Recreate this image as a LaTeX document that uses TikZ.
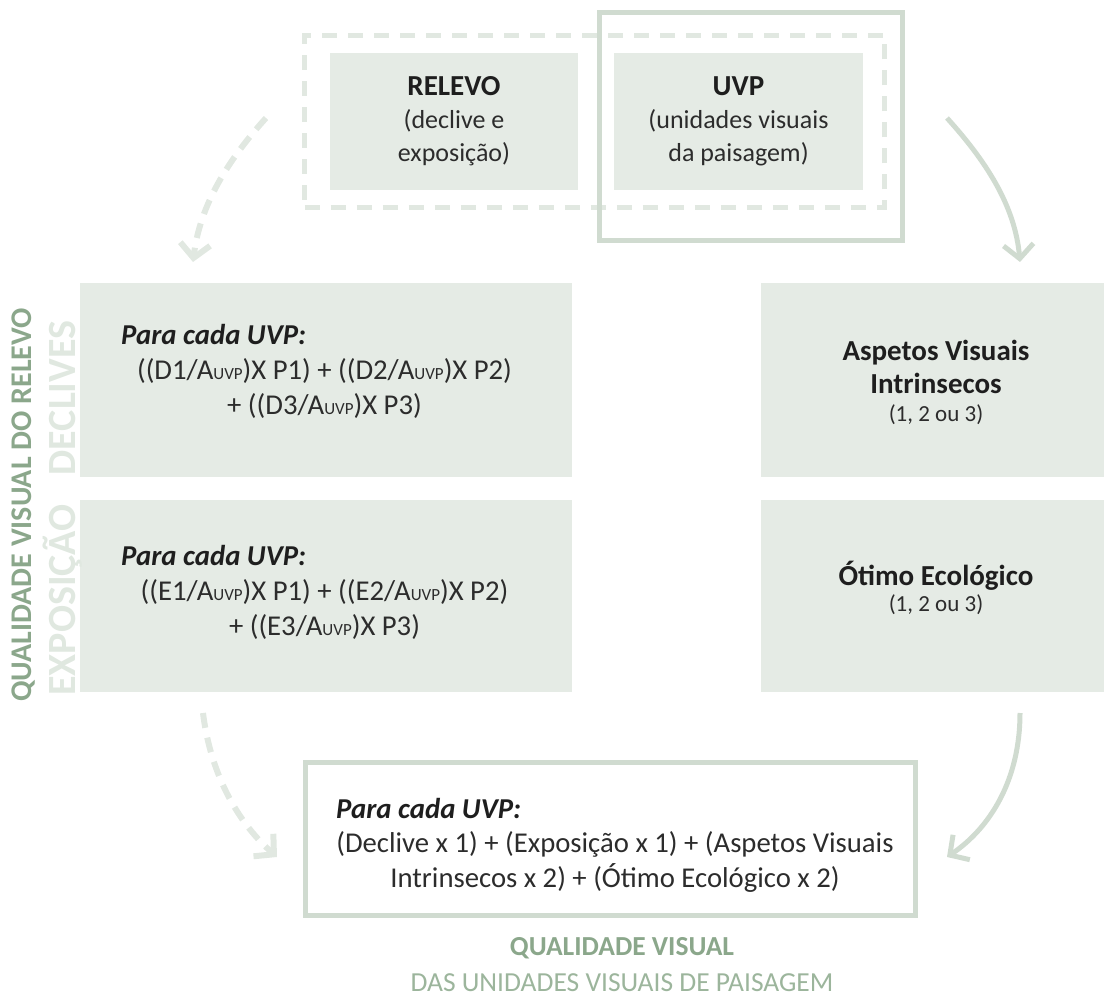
\documentclass[tikz,border=0pt]{standalone}
\usepackage{fontspec}
\setmainfont{Carlito}
\usetikzlibrary{arrows.meta}
\definecolor{boxfill}{HTML}{E5EBE5}
\definecolor{framec}{HTML}{D0DBD0}
\definecolor{dashc}{HTML}{E1E8E1}
\definecolor{titlec}{HTML}{8BA78B}
\definecolor{subtitlec}{HTML}{9CB59C}
\definecolor{ghostc}{HTML}{E0E8E0}
\definecolor{txt}{HTML}{1E1E1E}
\definecolor{txtl}{HTML}{2C2C2C}
\newcommand{\auvp}{A{\fontsize{17}{17}\selectfont UVP}}
\tikzset{
  fillbox/.style={fill=boxfill, draw=none, inner sep=0pt},
  framebox/.style={draw=framec, line width=5pt, inner sep=0pt},
  dashbox/.style={draw=dashc, line width=5pt, dash pattern=on 15pt off 11pt, inner sep=0pt},
  solidarrow/.style={draw=framec, line width=5pt, -{Straight Barb[length=14pt,width=30pt]}},
  dasharrow/.style={draw=dashc, line width=6pt, dash pattern=on 15pt off 10pt, -{Straight Barb[length=14pt,width=30pt]}},
  lbl/.style={inner sep=0pt, text=txtl, align=center, font=\fontsize{28.7}{35}\selectfont},
  boldlbl/.style={inner sep=0pt, text=txt, align=center, font=\fontsize{29}{33}\bfseries\selectfont},
  small/.style={inner sep=0pt, text=txtl, align=center, font=\fontsize{26}{33}\selectfont},
  tiny/.style={inner sep=0pt, text=txtl, align=center, font=\fontsize{23}{28}\selectfont},
  head/.style={inner sep=0pt, text=txt, font=\fontsize{28.8}{34}\bfseries\itshape\selectfont, anchor=west},
  vtitle/.style={inner sep=0pt, text=titlec, rotate=90, font=\fontsize{30}{34}\bfseries\selectfont},
  ghost/.style={inner sep=0pt, text=ghostc, rotate=90, font=\fontsize{40}{44}\bfseries\selectfont},
}
\begin{document}
\begin{tikzpicture}[x=1pt,y=-1pt]
\useasboundingbox (0,0) rectangle (1104,1000);

% top group
\node[dashbox, minimum width=580pt, minimum height=172pt] (relframe) at (594.5,121.5) {};
\node[framebox, minimum width=303pt, minimum height=228pt] (uvpframe) at (751,126.5) {};
\node[fillbox, minimum width=248pt, minimum height=137pt] (relevo) at (454,121.5) {};
\node[fillbox, minimum width=249pt, minimum height=137pt] (uvp) at (738.5,121.5) {};
\node[small] (relevotxt) at (454,121) {{\fontsize{29}{33}\bfseries\selectfont\color{txt} RELEVO}\\(declive e\\exposição)};
\node[small] (uvptxt) at (738.5,121) {{\fontsize{29}{33}\bfseries\selectfont\color{txt} UVP}\\(unidades visuais\\da paisagem)};

% left boxes
\node[fillbox, minimum width=492pt, minimum height=194pt] (declives) at (326,380) {};
\node[fillbox, minimum width=492pt, minimum height=192pt] (exposicao) at (326,596) {};
\node[head] (dhead) at (121,335) {Para cada UVP:};
\node[lbl] (dform) at (324.5,388) {((D1/\auvp)X P1) + ((D2/\auvp)X P2)\\+ ((D3/\auvp)X P3)};
\node[head] (ehead) at (121,556) {Para cada UVP:};
\node[lbl] (eform) at (324.5,609) {((E1/\auvp)X P1) + ((E2/\auvp)X P2)\\+ ((E3/\auvp)X P3)};

% right boxes
\node[fillbox, minimum width=343pt, minimum height=194pt] (aspetos) at (932.5,380) {};
\node[fillbox, minimum width=343pt, minimum height=192pt] (otimo) at (932.5,596) {};
\node[boldlbl] (asptxt) at (936,367) {Aspetos Visuais\\Intrinsecos};
\node[tiny] (aspval) at (936,415) {(1, 2 ou 3)};
\node[boldlbl] (otitxt) at (936,576) {Ótimo Ecológico};
\node[tiny] (otival) at (936,605) {(1, 2 ou 3)};

% vertical labels
\node[vtitle] (qvr) at (24,505) {QUALIDADE VISUAL DO RELEVO};
\node[ghost] (gdecl) at (63,398) {DECLIVES};
\node[ghost] (gexpo) at (63,600) {EXPOSIÇÃO};

% bottom box
\node[framebox, minimum width=610pt, minimum height=153pt] (final) at (610.5,839) {};
\node[head] (fhead) at (336,808) {Para cada UVP:};
\node[lbl] (fform) at (615,862) {(Declive x 1) + (Exposição x 1) + (Aspetos Visuais\\Intrinsecos x 2) + (Ótimo Ecológico x 2)};

% bottom title
\node[inner sep=0pt, text=titlec, font=\fontsize{27.5}{32}\bfseries\selectfont] (qv) at (622,948) {QUALIDADE VISUAL};
\node[inner sep=0pt, text=subtitlec, font=\fontsize{27.5}{32}\selectfont] (qvsub) at (622,983) {DAS UNIDADES VISUAIS DE PAISAGEM};

% connectors
\coordinate (a1s) at (266,118);
\coordinate (a1e) at (193,262);
\coordinate (a2s) at (947,118);
\coordinate (a2e) at (1020,262);
\coordinate (a3s) at (203,713);
\coordinate (a3e) at (277,857);
\coordinate (a4s) at (1020,713);
\coordinate (a4e) at (947,857);
\draw[dasharrow] (a1s) .. controls (228,160) and (200,205) .. (a1e);
\draw[solidarrow] (a2s) .. controls (985,160) and (1015,205) .. (a2e);
\draw[dasharrow] (a3s) .. controls (210,770) and (235,820) .. (a3e);
\draw[solidarrow] (a4s) .. controls (1020,780) and (990,828) .. (a4e);
\end{tikzpicture}
\end{document}
